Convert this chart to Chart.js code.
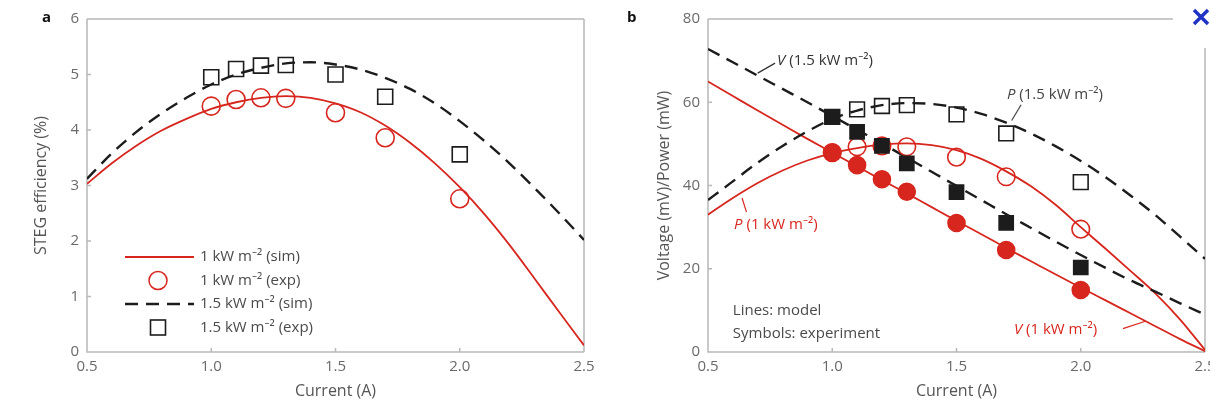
<!DOCTYPE html>
<html>
<head>
<meta charset="utf-8">
<script src="https://cdn.jsdelivr.net/npm/chart.js@4.4.1/dist/chart.umd.min.js"></script>
<style>
  body { margin: 0; background: #fff; overflow: hidden; }
  .panel { position: absolute; top: 0; height: 405px; }
</style>
</head>
<body>
<div class="panel" style="left:0;width:605px"><canvas id="chartA" width="605" height="405"></canvas></div>
<!-- panel b runs past the window edge so its last tick label is cut like in the figure -->
<div class="panel" style="left:605px;width:625px"><canvas id="chartB" width="625" height="405"></canvas></div>
<script>
// values
const modelCurrent = [0.5, 0.6, 0.7, 0.8, 0.9, 1.0, 1.1, 1.2, 1.3, 1.4, 1.5, 1.6, 1.7, 1.8, 1.9, 2.0, 2.1, 2.2, 2.3, 2.4, 2.5];
const expCurrent = [1.0, 1.1, 1.2, 1.3, 1.5, 1.7, 2.0];

// panel a: STEG efficiency (%)
const effSim1 = [3.03, 3.4, 3.72, 3.99, 4.2, 4.38, 4.5, 4.58, 4.61, 4.58, 4.48, 4.32, 4.08, 3.77, 3.4, 2.97, 2.48, 1.93, 1.33, 0.72, 0.12];
const effSim15 = [3.12, 3.58, 3.97, 4.3, 4.58, 4.82, 5.0, 5.12, 5.2, 5.22, 5.18, 5.09, 4.94, 4.74, 4.48, 4.16, 3.8, 3.4, 2.96, 2.5, 2.02];
const effExp1 = [4.43, 4.55, 4.58, 4.57, 4.31, 3.86, 2.76];
const effExp15 = [4.95, 5.1, 5.16, 5.17, 5.0, 4.6, 3.56];

// panel b: voltage (mV) and power (mW)
const powerSim1 = [33, 37, 40.6, 43.6, 46, 47.8, 49, 49.8, 50.1, 49.7, 48.5, 46.4, 43.4, 39.8, 35.3, 30, 24.8, 19.5, 14.1, 7.8, 0.5];
const voltSim1 = [65, 61.5, 58, 54.6, 51.2, 47.9, 44.6, 41.3, 38.1, 34.8, 31.5, 28.3, 25, 21.8, 18.6, 15.5, 12.4, 9.3, 6.2, 3.1, 0.2];
const powerSim15 = [36.5, 41, 45.5, 49.5, 53, 56, 58, 59.3, 59.8, 59.6, 58.7, 57.2, 55.1, 52.5, 49.4, 45.9, 42, 37.6, 32.9, 27.7, 22.4];
const voltSim15 = [72.8, 69.6, 66.4, 63.2, 60, 56.7, 53.4, 50.1, 46.7, 43.3, 39.9, 36.5, 33.1, 29.8, 26.5, 23.3, 20.2, 17.2, 14.5, 11.7, 9];
const powerExp1 = [47.9, 49.3, 49.5, 49.3, 46.8, 42.1, 29.5];
const voltExp1 = [47.9, 44.9, 41.5, 38.5, 31, 24.5, 14.9];
const powerExp15 = [56.5, 58.3, 59.1, 59.3, 57.1, 52.5, 40.8];
const voltExp15 = [56.5, 52.9, 49.5, 45.3, 38.4, 31, 20.3];

const xTicks = [0.5, 1.0, 1.5, 2.0, 2.5];

const FONT = "'Open Sans', 'Noto Sans', sans-serif";
const RED = '#d7261e';
const BLACK = '#1c1c1c';
const FRAME = '#b8b8b8';
const TICK_COLOR = '#6a6a6a';
const TEXT_COLOR = '#4a4a4a';

Chart.defaults.font.family = FONT;

function pts(xs, ys) {
  return xs.map((x, i) => ({ x: x, y: ys[i] }));
}

function drawRich(ctx, parts, x, y, size) {
  let cx = x;
  for (const [t, it] of parts) {
    ctx.font = (it ? 'italic ' : '') + size + 'px ' + FONT;
    ctx.fillText(t, cx, y);
    cx += ctx.measureText(t).width;
  }
}

// box around the plot + small inward ticks
const framePlugin = {
  id: 'frame',
  beforeDatasetsDraw(chart, args, opts) {
    const { ctx, chartArea: a, scales } = chart;
    const topEnd = a.right - (opts.topGap || 0);
    const rightStart = a.top + (opts.rightGap || 0);
    ctx.save();
    ctx.strokeStyle = FRAME;
    ctx.lineWidth = 1.5;
    ctx.beginPath();
    ctx.moveTo(a.left, a.top);
    ctx.lineTo(a.left, a.bottom);
    ctx.lineTo(a.right, a.bottom);
    ctx.moveTo(a.left, a.top);
    ctx.lineTo(topEnd, a.top);
    ctx.moveTo(a.right, rightStart);
    ctx.lineTo(a.right, a.bottom);
    scales.x.ticks.forEach(t => {
      const px = scales.x.getPixelForValue(t.value);
      ctx.moveTo(px, a.bottom);
      ctx.lineTo(px, a.bottom - 4);
    });
    scales.y.ticks.forEach(t => {
      const py = scales.y.getPixelForValue(t.value);
      ctx.moveTo(a.left, py);
      ctx.lineTo(a.left + 4, py);
    });
    ctx.stroke();
    ctx.restore();
  },
  afterDraw(chart, args, opts) {
    const ctx = chart.ctx;
    ctx.save();
    ctx.fillStyle = '#111';
    ctx.font = 'bold 15px ' + FONT;
    ctx.textBaseline = 'middle';
    ctx.fillText(opts.letter, opts.letterX, 18);
    ctx.restore();
  }
};

// legend of panel a, drawn inside the plot
const legendA = {
  id: 'legendA',
  afterDatasetsDraw(chart) {
    const { ctx, chartArea: a } = chart;
    const rows = [
      { kind: 'line', color: RED, dash: [], text: '1 kW m⁻² (sim)' },
      { kind: 'circle', color: RED, text: '1 kW m⁻² (exp)' },
      { kind: 'line', color: BLACK, dash: [13, 8], text: '1.5 kW m⁻² (sim)' },
      { kind: 'square', color: BLACK, text: '1.5 kW m⁻² (exp)' }
    ];
    ctx.save();
    ctx.textBaseline = 'middle';
    rows.forEach((r, i) => {
      const y = a.bottom - 95 + i * 23.5;
      ctx.strokeStyle = r.color;
      if (r.kind === 'line') {
        ctx.lineWidth = r.dash.length ? 2.4 : 1.8;
        ctx.setLineDash(r.dash);
        ctx.beginPath();
        ctx.moveTo(a.left + 38, y);
        ctx.lineTo(a.left + 107, y);
        ctx.stroke();
        ctx.setLineDash([]);
      } else if (r.kind === 'circle') {
        ctx.lineWidth = 1.5;
        ctx.beginPath();
        ctx.arc(a.left + 71, y, 9, 0, Math.PI * 2);
        ctx.stroke();
      } else {
        ctx.lineWidth = 1.6;
        ctx.strokeRect(a.left + 71 - 7.5, y - 7.5, 15, 15);
      }
      ctx.fillStyle = TEXT_COLOR;
      ctx.font = '15px ' + FONT;
      ctx.fillText(r.text, a.left + 113, y);
    });
    ctx.restore();
  }
};

// curve labels of panel b, placed in data units
const labelsB = {
  id: 'labelsB',
  afterDatasetsDraw(chart) {
    const { ctx, scales } = chart;
    const X = v => scales.x.getPixelForValue(v);
    const Y = v => scales.y.getPixelForValue(v);
    const notes = [
      { parts: [['V', true], [' (1.5 kW m⁻²)', false]], x: 0.778, y: 69.9, color: '#333', leader: [0.70, 67.0, 0.77, 69.4] },
      { parts: [['P', true], [' (1.5 kW m⁻²)', false]], x: 1.703, y: 61.7, color: '#444', leader: [1.76, 59.4, 1.722, 55.6] },
      { parts: [['P', true], [' (1 kW m⁻²)', false]], x: 0.605, y: 30.5, color: RED, leader: [0.655, 33.6, 0.637, 37.0] },
      { parts: [['V', true], [' (1 kW m⁻²)', false]], x: 1.731, y: 5.3, color: RED, leader: [2.17, 5.6, 2.26, 7.4] },
      { parts: [['Lines: model', false]], x: 0.6, y: 9.8, color: TEXT_COLOR },
      { parts: [['Symbols: experiment', false]], x: 0.6, y: 4.5, color: TEXT_COLOR }
    ];
    ctx.save();
    ctx.textBaseline = 'middle';
    notes.forEach(n => {
      ctx.fillStyle = n.color;
      drawRich(ctx, n.parts, X(n.x), Y(n.y), 15);
      if (n.leader) {
        ctx.strokeStyle = n.color;
        ctx.lineWidth = 1.2;
        ctx.beginPath();
        ctx.moveTo(X(n.leader[0]), Y(n.leader[1]));
        ctx.lineTo(X(n.leader[2]), Y(n.leader[3]));
        ctx.stroke();
      }
    });
    // close mark in the top right corner of the picture
    ctx.strokeStyle = '#2133c4';
    ctx.lineWidth = 3.5;
    ctx.beginPath();
    ctx.moveTo(589, 10); ctx.lineTo(603, 24);
    ctx.moveTo(603, 10); ctx.lineTo(589, 24);
    ctx.stroke();
    ctx.restore();
  }
};

function xScale() {
  return {
    type: 'linear',
    min: 0.5,
    max: 2.5,
    afterBuildTicks: s => { s.ticks = xTicks.map(v => ({ value: v })); },
    ticks: { color: TICK_COLOR, font: { size: 15 }, padding: 6, maxRotation: 0, callback: v => v.toFixed(1) },
    grid: { display: false, drawTicks: false },
    border: { display: false },
    title: { display: true, text: 'Current (A)', color: '#555', font: { size: 16 }, padding: { top: 0, bottom: 4 } },
    afterFit: s => { s.height = 53; s.paddingLeft = 0; s.paddingRight = 0; }
  };
}

function yScale(max, step, width, title, titlePad) {
  return {
    type: 'linear',
    min: 0,
    max: max,
    ticks: { stepSize: step, color: TICK_COLOR, font: { size: 15 }, padding: 8 },
    grid: { display: false, drawTicks: false },
    border: { display: false },
    title: { display: true, text: title, color: '#555', font: { size: 16 }, padding: { top: titlePad, bottom: 0 } },
    afterFit: s => { s.width = width; s.paddingTop = 0; s.paddingBottom = 0; }
  };
}

function lineSet(data, color, dashed) {
  return {
    data: data,
    showLine: true,
    borderColor: color,
    borderWidth: dashed ? 2.4 : 1.8,
    borderDash: dashed ? [13, 8] : [],
    pointRadius: 0,
    cubicInterpolationMode: 'monotone',
    fill: false
  };
}

function markerSet(data, style, color, filled, radius) {
  return {
    data: data,
    showLine: false,
    pointStyle: style,
    pointRadius: radius,
    pointBorderColor: color,
    pointBackgroundColor: filled ? color : 'rgba(0,0,0,0)',
    pointBorderWidth: 1.6
  };
}

new Chart(document.getElementById('chartA'), {
  type: 'scatter',
  data: {
    datasets: [
      markerSet(pts(expCurrent, effExp15), 'rect', BLACK, false, 10.6),
      markerSet(pts(expCurrent, effExp1), 'circle', RED, false, 9),
      lineSet(pts(modelCurrent, effSim15), BLACK, true),
      lineSet(pts(modelCurrent, effSim1), RED, false)
    ]
  },
  options: {
    responsive: false,
    animation: false,
    events: [],
    layout: { padding: { top: 19, right: 21, left: 0, bottom: 0 } },
    plugins: {
      legend: { display: false },
      tooltip: { enabled: false },
      frame: { letter: 'a', letterX: 42 }
    },
    scales: {
      x: xScale(),
      y: yScale(6, 1, 87, 'STEG efficiency (%)', 32)
    }
  },
  plugins: [framePlugin, legendA]
});

new Chart(document.getElementById('chartB'), {
  type: 'scatter',
  data: {
    datasets: [
      markerSet(pts(expCurrent, voltExp15), 'rect', BLACK, true, 10),
      markerSet(pts(expCurrent, voltExp1), 'circle', RED, true, 8.5),
      markerSet(pts(expCurrent, powerExp15), 'rect', BLACK, false, 10.4),
      markerSet(pts(expCurrent, powerExp1), 'circle', RED, false, 8.8),
      lineSet(pts(modelCurrent, voltSim15), BLACK, true),
      lineSet(pts(modelCurrent, powerSim15), BLACK, true),
      lineSet(pts(modelCurrent, voltSim1), RED, false),
      lineSet(pts(modelCurrent, powerSim1), RED, false)
    ]
  },
  options: {
    responsive: false,
    animation: false,
    events: [],
    layout: { padding: { top: 19, right: 25, left: 0, bottom: 0 } },
    plugins: {
      legend: { display: false },
      tooltip: { enabled: false },
      frame: { letter: 'b', letterX: 22, topGap: 32, rightGap: 29 }
    },
    scales: {
      x: xScale(),
      y: yScale(80, 20, 103, 'Voltage (mV)/Power (mW)', 50)
    }
  },
  plugins: [framePlugin, labelsB]
});
</script>
</body>
</html>
